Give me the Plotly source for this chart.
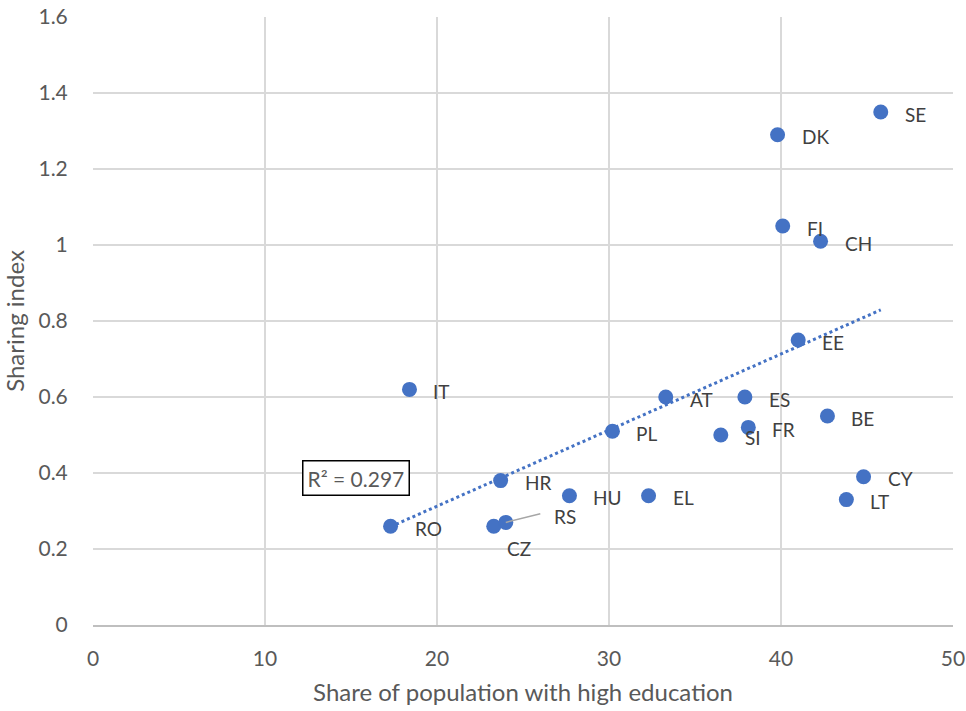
import numpy as np
import plotly.graph_objects as go

# Country codes with share of population with high education (%) and sharing index
countries = ["RO", "IT", "HR", "CZ", "RS", "HU", "PL", "EL", "AT", "SI",
             "ES", "FR", "EE", "BE", "LT", "CY", "FI", "CH", "DK", "SE"]
education = [17.3, 18.4, 23.7, 23.3, 24.0, 27.7, 30.2, 32.3, 33.3, 36.5,
             37.9, 38.1, 41.0, 42.7, 43.8, 44.8, 40.1, 42.3, 39.8, 45.8]
sharing = [0.26, 0.62, 0.38, 0.26, 0.27, 0.34, 0.51, 0.34, 0.60, 0.50,
           0.60, 0.52, 0.75, 0.55, 0.33, 0.39, 1.05, 1.01, 1.29, 1.35]
r_squared_label = "R² = 0.297"

x_ticks = [0, 10, 20, 30, 40, 50]
y_ticks = [0, 0.2, 0.4, 0.6, 0.8, 1.0, 1.2, 1.4, 1.6]
y_tick_text = ["0", "0.2", "0.4", "0.6", "0.8", "1", "1.2", "1.4", "1.6"]

BLUE = "#4472C4"
GREY_TEXT = "#595959"
GRID = "#D9D9D9"
FONT = "Lato"

x = np.array(education)
y = np.array(sharing)
slope, intercept = np.polyfit(x, y, 1)
x_fit = np.array([x.min(), x.max()])
y_fit = slope * x_fit + intercept

fig = go.Figure()

# Linear trend line
fig.add_trace(go.Scatter(
    x=x_fit, y=y_fit, mode="lines",
    line=dict(color=BLUE, width=3, dash="dot"),
    hoverinfo="skip", showlegend=False,
))

# Country points
fig.add_trace(go.Scatter(
    x=education, y=sharing, mode="markers",
    marker=dict(color=BLUE, size=15),
    text=countries, hovertemplate="%{text}: %{x}, %{y}<extra></extra>",
    showlegend=False,
))

# Point labels, right of each marker; CZ and RS are nudged apart
label_shift = {"CZ": (11, -22), "RS": (46, 6)}
for c, xv, yv in zip(countries, education, sharing):
    dx, dy = label_shift.get(c, (22, -2))
    fig.add_annotation(
        x=xv, y=yv, text=c, showarrow=False, xanchor="left", yanchor="middle",
        xshift=dx, yshift=dy,
        font=dict(family=FONT, size=19, color="#404040"),
    )

# Leader line from the RS point to its label
fig.add_annotation(
    x=education[countries.index("RS")], y=sharing[countries.index("RS")],
    ax=36, ay=-9, axref="pixel", ayref="pixel",
    text="", showarrow=True, arrowhead=0, arrowwidth=1.5, arrowcolor="#A6A6A6",
    standoff=0, startstandoff=0,
)

# R² label box
fig.add_annotation(
    x=12.15, y=0.388, xref="x", yref="y", text=r_squared_label, showarrow=False,
    xanchor="left", yanchor="middle",
    font=dict(family=FONT, size=21, color=GREY_TEXT),
    bordercolor="#000000", borderwidth=1.5, borderpad=4, bgcolor="white",
)

fig.update_layout(
    width=966, height=711,
    margin=dict(l=93, r=13, t=17, b=86),
    paper_bgcolor="white", plot_bgcolor="white",
    font=dict(family=FONT, color=GREY_TEXT, size=21),
)
fig.update_xaxes(
    range=[0, 50], tickvals=x_ticks, showgrid=True, gridcolor=GRID, gridwidth=1.5,
    showline=True, linecolor="#BFBFBF", linewidth=1.5, mirror=False,
    zeroline=False, ticks="outside", ticklen=14, tickcolor="rgba(0,0,0,0)",
    tickfont=dict(family=FONT, size=21, color=GREY_TEXT), automargin=False,
    title=dict(text="Share of population with high education", standoff=15,
               font=dict(family=FONT, size=24, color=GREY_TEXT)),
)
fig.update_yaxes(
    range=[0, 1.6], tickvals=y_ticks, ticktext=y_tick_text,
    showgrid=True, gridcolor=GRID, gridwidth=1.5, zeroline=False,
    ticks="outside", ticklen=20, tickcolor="rgba(0,0,0,0)",
    tickfont=dict(family=FONT, size=21, color=GREY_TEXT), automargin=False,
    title=dict(text="Sharing index", standoff=10,
               font=dict(family=FONT, size=24, color=GREY_TEXT)),
)

fig.write_html("out.html")
